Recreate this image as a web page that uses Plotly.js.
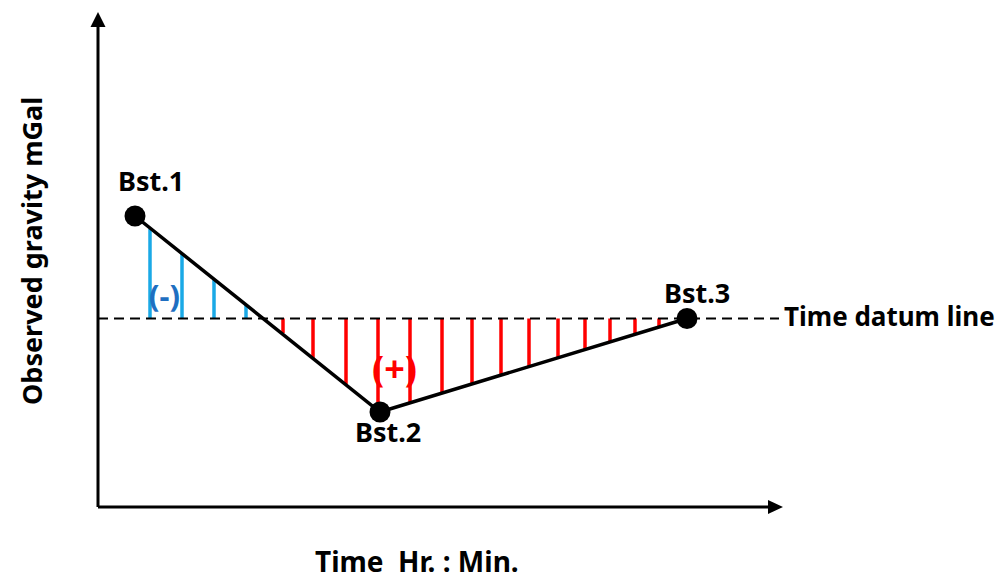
<!DOCTYPE html>
<html><head><meta charset="utf-8">
<script src="https://cdn.plot.ly/plotly-3.0.1.min.js"></script>
<style>html,body{margin:0;padding:0;background:#fff}#chart{width:1004px;height:581px}</style>
</head><body><div id="chart"></div>
<script>
// Base stations: reading time (min) and observed gravity (mGal)
const stationNames = ['Bst.1', 'Bst.2', 'Bst.3'];
const stationTime = [7.4, 56.4, 117.8];
const stationGravity = [58.2, 19.0, 37.7];

// Time datum level and where the dashed datum line ends
const datumGravity = 37.7;
const datumStart = 0;
const datumEnd = 136.2;

// Negative drift corrections (drift line above the datum)
const negTime = [10.4, 16.8, 23.2, 29.6];
const negGravity = [55.6, 50.8, 45.6, 40.4];

// Positive drift corrections (drift line below the datum)
const posTime = [37.0, 43.0, 49.6, 56.0, 62.4, 68.8, 74.8, 80.6, 86.2, 92.0, 97.4, 102.4, 107.4, 112.2];
const posGravity = [34.8, 29.8, 24.6, 19.4, 20.8, 22.8, 24.6, 26.2, 28.0, 29.8, 31.4, 32.8, 34.4, 36.0];

const FONT = 'Noto Sans';

// Vertical segments from the datum to the drift line
function ticks(xs, ys) {
  const x = [], y = [];
  xs.forEach((t, i) => { x.push(t, t, null); y.push(datumGravity, ys[i], null); });
  return {x, y};
}
const neg = ticks(negTime, negGravity);
const pos = ticks(posTime, posGravity);

const traces = [
  {x: neg.x, y: neg.y, mode: 'lines', line: {color: '#1aa9e6', width: 3.5}, hoverinfo: 'skip', cliponaxis: false},
  {x: pos.x, y: pos.y, mode: 'lines', line: {color: '#ff0000', width: 3.5}, hoverinfo: 'skip', cliponaxis: false},
  {x: [datumStart, datumEnd], y: [datumGravity, datumGravity], mode: 'lines',
   line: {color: '#000', width: 2, dash: '10px,6px'}, hoverinfo: 'skip', cliponaxis: false},
  {x: stationTime, y: stationGravity, mode: 'lines+markers', text: stationNames,
   line: {color: '#000', width: 3.5}, marker: {color: '#000', size: 21},
   cliponaxis: false}
];

const W = 685, H = 495;
const shapes = [
  // y axis with arrow head
  {type: 'line', xref: 'paper', yref: 'paper', x0: 0, x1: 0, y0: 0, y1: 480 / H, line: {color: '#000', width: 3}},
  {type: 'path', xref: 'paper', yref: 'paper',
   path: `M ${-7.5 / W} ${480 / H} L ${7.5 / W} ${480 / H} L 0 1 Z`, fillcolor: '#000', line: {width: 0}},
  // x axis with arrow head
  {type: 'line', xref: 'paper', yref: 'paper', x0: 0, x1: 670 / W, y0: 0, y1: 0, line: {color: '#000', width: 3}},
  {type: 'path', xref: 'paper', yref: 'paper',
   path: `M ${670 / W} ${7 / H} L ${670 / W} ${-7 / H} L 1 0 Z`, fillcolor: '#000', line: {width: 0}}
];

const labelShift = [[16, 36], [7.5, -19.5], [10, 26.5]];
const annotations = stationNames.map((n, i) => ({
  x: stationTime[i], y: stationGravity[i], xref: 'x', yref: 'y', text: n, showarrow: false,
  xanchor: 'center', yanchor: 'middle',
  xshift: labelShift[i][0], yshift: labelShift[i][1],
  font: {family: FONT, size: 27, color: '#000', weight: 700}
}));
annotations.push(
  {x: datumEnd, y: datumGravity, xref: 'x', yref: 'y', text: 'Time datum line', showarrow: false,
   xanchor: 'left', yanchor: 'middle', xshift: 3, yshift: 2.5,
   font: {family: FONT, size: 26, color: '#000', weight: 700}},
  {x: 13.3, y: 42.4, xref: 'x', yref: 'y', text: '(-)', showarrow: false,
   xanchor: 'center', yanchor: 'middle',
   font: {family: FONT, size: 31, color: '#1f6fc1', weight: 700}},
  {x: 59.2, y: 27.7, xref: 'x', yref: 'y', text: '(+)', showarrow: false,
   xanchor: 'center', yanchor: 'middle',
   font: {family: FONT, size: 36, color: '#ff0000', weight: 700}},
  {x: (416.5 - 98) / W, y: (507 - 561) / H, xref: 'paper', yref: 'paper', text: 'Time  Hr. : Min.',
   xanchor: 'center', yanchor: 'middle',
   showarrow: false, font: {family: FONT, size: 28, color: '#000', weight: 700}},
  {x: (31 - 98) / W, y: (507 - 251) / H, xref: 'paper', yref: 'paper', text: 'Observed gravity mGal',
   xanchor: 'center', yanchor: 'middle',
   textangle: -90, showarrow: false, font: {family: FONT, size: 27, color: '#000', weight: 700}}
);

const layout = {
  width: 1004, height: 581,
  margin: {l: 98, r: 221, t: 12, b: 74},
  paper_bgcolor: '#fff', plot_bgcolor: '#fff',
  showlegend: false,
  xaxis: {range: [0, 137], visible: false, fixedrange: true},
  yaxis: {range: [0, 99], visible: false, fixedrange: true},
  shapes, annotations
};

Plotly.newPlot('chart', traces, layout, {displayModeBar: false, staticPlot: true});
</script>
</body></html>
